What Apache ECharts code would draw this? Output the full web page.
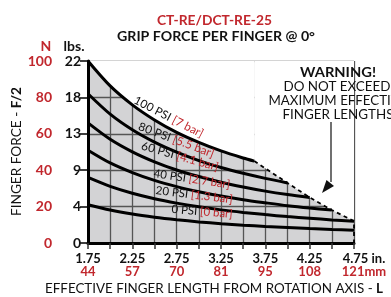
<!DOCTYPE html>
<html><head><meta charset="utf-8">
<script src="https://cdn.jsdelivr.net/npm/echarts@6/dist/echarts.min.js"></script>
<style>html,body{margin:0;padding:0;background:#fff}#c{width:391px;height:297px}</style>
</head><body><div id="c"></div>
<script>
const RED = '#c1272d';
const FONT = 'Lato';

// Tick labels
const yTicksN = [0, 20, 40, 60, 80, 100];
const yTicksLbs = ['0', '4', '9', '13', '18', '22'];
const xTickIn = ['1.75', '2.25', '2.75', '3.25', '3.75', '4.25', '4.75'];
const xTickMm = ['44', '57', '70', '81', '95', '108', '121'];

// Series values: [length in., force N]
const psi100 = [[1.75,100],[2,86.3],[2.25,75.9],[2.5,67.6],[2.75,60.8],[3,55.3],[3.25,50.6],[3.5,46.7],[3.625,45]];
const psi80  = [[1.75,82],[2,70.8],[2.25,62.2],[2.5,55.4],[2.75,49.9],[3,45.3],[3.25,41.5],[3.5,38.3],[3.75,35.5],[4,33]];
const psi60  = [[1.75,66],[2,57],[2.25,50.1],[2.5,44.6],[2.75,40.1],[3,36.5],[3.25,33.4],[3.5,30.8],[3.75,28.5],[4,26.6],[4.25,25]];
const psi40  = [[1.75,51],[2,44],[2.25,38.7],[2.5,34.4],[2.75,31],[3,28.2],[3.25,25.8],[3.5,23.8],[3.75,22.1],[4,20.5],[4.25,19.2],[4.5,18.1]];
const psi20  = [[1.75,36],[2,31.1],[2.25,27.3],[2.5,24.3],[2.75,21.9],[3,19.9],[3.25,18.2],[3.5,16.8],[3.75,15.6],[4,14.5],[4.25,13.6],[4.5,12.7],[4.75,12]];
const psi0   = [[1.75,21],[2,18.1],[2.25,15.9],[2.5,14.2],[2.75,12.8],[3,11.6],[3.25,10.6],[3.5,9.8],[3.75,9.1],[4,8.5],[4.25,7.9],[4.5,7.4],[4.75,7]];
const limitLine = [[3.625,45],[4,33],[4.25,25],[4.5,18.1],[4.75,12],[4.75,0]];

const curveNames = ['100 PSI', '80 PSI', '60 PSI', '40 PSI', '20 PSI', '0 PSI'];
const curveBars = ['[7 bar]', '[5.5 bar]', '[4.1 bar]', '[2.7 bar]', '[1.3 bar]', '[0 bar]'];
const curves = [psi100, psi80, psi60, psi40, psi20, psi0];

// label layout: start/end of each curve label along its curve (data coords)
const labelLayout = [
  {from:[2.246,75.9], to:[3.013,56.7]},
  {from:[2.299,61.2], to:[3.145,45.7]},
  {from:[2.336,50.3], to:[3.201,38.4]},
  {from:[2.483,35.0], to:[3.340,28.7]},
  {from:[2.506,25.7], to:[3.374,20.5]},
  {from:[2.686,15.3], to:[3.374,12.5]}
];

const mctx = document.createElement('canvas').getContext('2d');
function meas(font, s){ mctx.font = font; return mctx.measureText(s).width; }

const chart = echarts.init(document.getElementById('c'), null, {renderer:'canvas'});

const series = [];
series.push({type:'line', data: psi100, smooth:0.3, symbol:'none', lineStyle:{width:0}, areaStyle:{color:'#fff', opacity:1, origin:'end'}, z:1, silent:true});
series.push({type:'line', data: limitLine.slice(0,5), symbol:'none', lineStyle:{width:0}, areaStyle:{color:'#fff', opacity:1, origin:'end'}, z:1, silent:true});
curves.forEach((d,i)=>{
  series.push({type:'line', name:curveNames[i], data:d, smooth:0.3, symbol:'none', lineStyle:{color:'#000', width:3}, z:4, silent:true});
});
series.push({type:'line', data: limitLine, symbol:'none', lineStyle:{color:'#000', width:1.8, type:[4,3.5]}, z:3, silent:true});

chart.setOption({
  animation:false,
  grid:{left:88, right:37, top:61, bottom:54, show:true, backgroundColor:'#d3d3d5', borderWidth:0},
  xAxis:{type:'value', min:1.75, max:4.75, interval:0.25,
    axisLine:{show:true, onZero:false, lineStyle:{color:'#000', width:3}},
    axisTick:{show:true, length:6, lineStyle:{color:'#333', width:1.5}},
    splitLine:{show:true, lineStyle:{color:'#555', width:1.3}},
    axisLabel:{margin:9, showMinLabel:true, showMaxLabel:true,
      formatter:(v)=>{
        const k = Math.round((v-1.75)/0.25);
        if (k % 2) return '';
        const i = k/2;
        if (i === xTickIn.length-1) return '{p1|}{a|'+xTickIn[i]+'}{a|'+' in.}\n{p2|}{b|'+xTickMm[i]+'}{b|mm}';
        return '{a|'+xTickIn[i]+'}\n{b|'+xTickMm[i]+'}';
      },
      rich:{
        a:{fontFamily:FONT, fontWeight:'bold', fontSize:13, color:'#111', lineHeight:13},
        b:{fontFamily:FONT, fontWeight:'bold', fontSize:13, color:RED, lineHeight:13},
        p1:{width:20, lineHeight:13},
        p2:{width:20, lineHeight:13}
      }
    }
  },
  yAxis:{type:'value', min:0, max:100, interval:20,
    axisLine:{show:true, lineStyle:{color:'#000', width:3}},
    axisTick:{show:true, length:8, lineStyle:{color:'#000', width:1.5}},
    splitLine:{show:true, lineStyle:{color:'#555', width:1.3}},
    axisLabel:{margin:7,
      formatter:(v)=>{
        const i = yTicksN.indexOf(v);
        return '{n|'+yTicksN[i]+'}{l|'+yTicksLbs[i]+'}';
      },
      rich:{
        n:{fontFamily:FONT, fontWeight:'bold', fontSize:14, color:RED, width:30, align:'right'},
        l:{fontFamily:FONT, fontWeight:'bold', fontSize:14, color:'#111', width:29, align:'right'}
      }
    }
  },
  series
});

const g = [];
function fitText(text, font, fill, cx, cy, w, extra){
  const s = w / meas(font, text);
  return Object.assign({type:'text', x:cx, y:cy, scaleX:s, z:100,
    style:{text, fill, font, align:'center', verticalAlign:'middle'}}, extra||{});
}
g.push(fitText('CT-RE/DCT-RE-25', 'bold 13.5px '+FONT, RED, 214.5, 21, 115));
g.push(fitText('GRIP FORCE PER FINGER @ 0°', 'bold 13.5px '+FONT, '#111', 216, 37, 198));
g.push({type:'text', x:46, y:46, z:100, style:{text:'N', fill:RED, font:'bold 14px '+FONT, align:'center', verticalAlign:'middle'}});
g.push({type:'text', x:74, y:46, z:100, style:{text:'lbs.', fill:'#111', font:'bold 14px '+FONT, align:'center', verticalAlign:'middle'}});
(function(){
  const f1 = '13.5px '+FONT, f2 = 'bold 13.5px '+FONT;
  const w = meas(f1,'FINGER FORCE - ') + meas(f2,'F/2');
  const s = 129 / w;
  g.push({type:'text', x:17, y:151.5, rotation:Math.PI/2, scaleX:s, z:100,
    style:{text:'FINGER FORCE - {b|F/2}', rich:{b:{font:f2, fill:'#111'}}, fill:'#111', font:f1, align:'center', verticalAlign:'middle'}});
})();
(function(){
  const f1 = '13px '+FONT, f2 = 'bold 13px '+FONT;
  const w = meas(f1,'EFFECTIVE FINGER LENGTH FROM ROTATION AXIS - ') + meas(f2,'L');
  const s = 338 / w;
  g.push({type:'text', x:45, y:289, scaleX:s, z:100,
    style:{text:'EFFECTIVE FINGER LENGTH FROM ROTATION AXIS - {b|L}', rich:{b:{font:f2, fill:'#111'}}, fill:'#111', font:f1, align:'left', verticalAlign:'middle'}});
})();
g.push(fitText('WARNING!', 'bold 13px '+FONT, '#111', 338, 73, 76));
g.push(fitText('DO NOT EXCEED', '13px '+FONT, '#111', 337, 87, 107));
g.push(fitText('MAXIMUM EFFECTIVE', '13px '+FONT, '#111', 338, 101, 139));
g.push(fitText('FINGER LENGTHS', '13px '+FONT, '#111', 338, 115, 111));
g.push({type:'polyline', z:100, shape:{points:[[331,122],[331,182]]}, style:{stroke:'#111', lineWidth:1.2, fill:null}});
g.push({type:'polygon', z:100, shape:{points:[[322,193],[326.5,180],[334,186]]}, style:{fill:'#111'}});
labelLayout.forEach((lb,i)=>{
  const p0 = chart.convertToPixel({gridIndex:0}, lb.from);
  const p1 = chart.convertToPixel({gridIndex:0}, lb.to);
  const dx = p1[0]-p0[0], dy = p1[1]-p0[1];
  const len = Math.sqrt(dx*dx+dy*dy);
  const ang = Math.atan2(dy, dx);
  const f = '11.5px '+FONT;
  const txt = curveNames[i]+' '+curveBars[i];
  const s = len / meas(f, txt);
  g.push({type:'text', x:p0[0], y:p0[1], rotation:-ang, scaleX:s, z:100,
    style:{text:'{k|'+curveNames[i]+'} {r|'+curveBars[i]+'}', rich:{k:{fill:'#111', font:f}, r:{fill:RED, font:f}}, font:f, align:'left', verticalAlign:'bottom'}});
});
chart.setOption({graphic:{elements:g}});
</script></body></html>
